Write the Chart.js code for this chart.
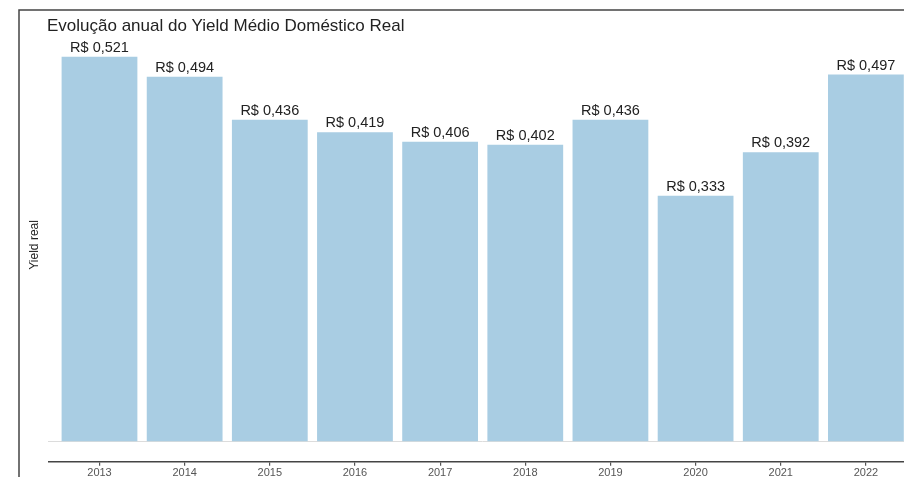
<!DOCTYPE html>
<html>
<head>
<meta charset="utf-8">
<script src="https://cdn.jsdelivr.net/npm/chart.js@4.4.1/dist/chart.umd.min.js"></script>
<style>
  html, body { margin: 0; padding: 0; background: #fff; overflow: hidden; }
  #wrap { width: 920px; height: 482px; }
</style>
</head>
<body>
<div id="wrap"><canvas id="chart"></canvas></div>
<script>
const years = [2013, 2014, 2015, 2016, 2017, 2018, 2019, 2020, 2021, 2022];
const yieldReal = [0.521, 0.494, 0.436, 0.419, 0.406, 0.402, 0.436, 0.333, 0.392, 0.497];
const chartTitle = 'Evolução anual do Yield Médio Doméstico Real';
const yTitle = 'Yield real';

const fmt = v => 'R$ ' + v.toFixed(3).replace('.', ',');

// frame + title + value labels drawn on the canvas
const decor = {
  id: 'decor',
  beforeDraw(chart) {
    const ctx = chart.ctx;
    ctx.save();
    ctx.fillStyle = '#fff';
    ctx.fillRect(0, 0, chart.width, chart.height);
    ctx.strokeStyle = '#444';
    ctx.lineWidth = 1.5;
    ctx.beginPath();
    ctx.moveTo(19, chart.height);
    ctx.lineTo(19, 10);
    ctx.lineTo(chart.width, 10);
    ctx.stroke();
    ctx.restore();
  },
  afterDatasetsDraw(chart) {
    const ctx = chart.ctx;
    const meta = chart.getDatasetMeta(0);
    ctx.save();
    ctx.font = '14.5px "Liberation Sans", Arial, sans-serif';
    ctx.fillStyle = '#222';
    ctx.textAlign = 'center';
    ctx.textBaseline = 'alphabetic';
    meta.data.forEach((bar, i) => {
      ctx.fillText(fmt(yieldReal[i]), bar.x, bar.y - 5);
    });
    ctx.font = '17px "Liberation Sans", Arial, sans-serif';
    ctx.textAlign = 'left';
    ctx.fillText(chartTitle, 47, 31);
    ctx.restore();
  }
};

new Chart(document.getElementById('chart'), {
  type: 'bar',
  data: {
    datasets: [{
      data: years.map((y, i) => ({ x: y, y: yieldReal[i] })),
      backgroundColor: '#a9cde3',
      borderWidth: 0,
      categoryPercentage: 1,
      barPercentage: 0.89
    }]
  },
  options: {
    responsive: true,
    maintainAspectRatio: false,
    animation: false,
    layout: { padding: { left: 27, top: 28, right: 3, bottom: 1 } },
    plugins: {
      legend: { display: false },
      tooltip: { enabled: false }
    },
    scales: {
      x: {
        type: 'linear',
        offset: false,
        min: 2012.4,
        max: 2022.6,
        afterBuildTicks: s => { s.ticks = years.map(v => ({ value: v })); },
        ticks: {
          callback: v => String(v),
          font: { size: 11, family: '"Liberation Sans", Arial, sans-serif' },
          color: '#555',
          padding: 1,
          maxRotation: 0,
          autoSkip: false
        },
        grid: { offset: false, drawOnChartArea: false, tickLength: 4, color: '#555', lineWidth: 1.2 },
        border: { color: '#444', width: 1.5 }
      },
      y: {
        min: -0.027,
        max: 0.56,
        ticks: { display: false },
        grid: {
          drawTicks: false,
          tickLength: 0,
          color: c => (c.tick && c.tick.value === 0 ? '#dcdcdc' : 'rgba(0,0,0,0)')
        },
        border: { display: false },
        title: {
          display: true,
          text: yTitle,
          color: '#222',
          font: { size: 12, family: '"Liberation Sans", Arial, sans-serif' },
          padding: { top: 0, bottom: 7 }
        }
      }
    }
  },
  plugins: [decor]
});
</script>
</body>
</html>
